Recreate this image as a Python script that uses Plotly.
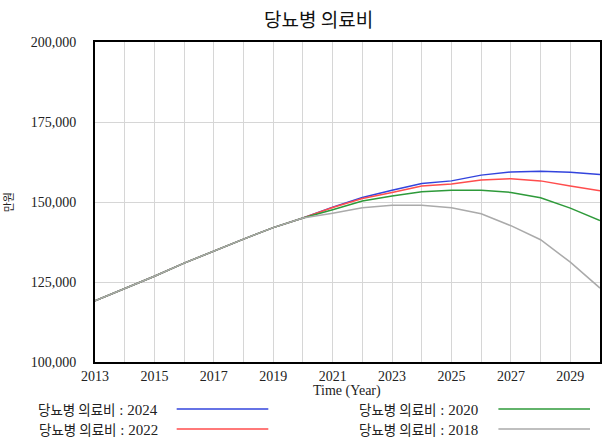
import plotly.graph_objects as go

years = list(range(2013, 2031))
common = [119.1, 122.9, 126.8, 130.9, 134.7, 138.4, 142.0, 145.0]
s2024 = common + [148.4, 151.4, 153.7, 155.8, 156.6, 158.4, 159.4, 159.6, 159.3, 158.6]
s2022 = common + [148.3, 151.1, 153.0, 155.0, 155.6, 156.9, 157.3, 156.6, 155.0, 153.5]
s2020 = common + [147.6, 150.3, 151.9, 153.2, 153.7, 153.7, 153.0, 151.3, 148.1, 144.2]
s2018 = common + [146.5, 148.2, 149.0, 149.0, 148.2, 146.3, 142.6, 138.2, 131.2, 123.1]

series_label = "당뇨병 의료비"
series_years = ["2024", "2022", "2020", "2018"]
series_vals = [s2024, s2022, s2020, s2018]
colors = ["#3344dd", "#ff4d4d", "#2e9a3a", "#aaaaaa"]

title = "당뇨병 의료비"
x_title = "Time (Year)"
y_title = "만원"
x_ticks = list(range(2013, 2030, 2))
y_ticks = [100000, 125000, 150000, 175000, 200000]

serif = "Liberation Serif, Times New Roman, serif"
kfont = "Noto Sans CJK KR, sans-serif"

fig = go.Figure()
for yr, vals, c in zip(series_years, series_vals, colors):
    fig.add_trace(go.Scatter(x=years, y=[v * 1000 for v in vals], mode="lines",
                             name=f"{series_label} : {yr}", line=dict(color=c, width=1.5),
                             showlegend=False))

W, H = 613, 441
ml, mr, mt, mb = 95, 11, 42, 79
PW, PH = W - ml - mr, H - mt - mb

fig.update_layout(
    width=W, height=H,
    margin=dict(l=ml, r=mr, t=mt, b=mb),
    plot_bgcolor="white", paper_bgcolor="white",
    xaxis=dict(range=[2013, 2030], tickvals=x_ticks, ticktext=[str(t) for t in x_ticks],
               showgrid=True, gridcolor="#d6d6d6", gridwidth=1,
               minor=dict(dtick=1, showgrid=True, gridcolor="#d6d6d6", gridwidth=1),
               showline=True, linecolor="black", linewidth=2, mirror=True,
               zeroline=False, tickfont=dict(family=serif, size=14, color="#222")),
    yaxis=dict(range=[100000, 200000], tickvals=y_ticks,
               ticktext=[f"{t:,}" for t in y_ticks],
               showgrid=True, gridcolor="#d6d6d6", gridwidth=1,
               showline=True, linecolor="black", linewidth=2, mirror=True,
               zeroline=False, tickfont=dict(family=serif, size=14, color="#222"),
               ticklabelstandoff=14),
)

def px(x):
    return (x - ml) / PW

def py(y):
    return (H - mb - y) / PH

annos = [
    dict(text=title, x=px(319), y=py(18), font=dict(family=kfont, size=19, color="#111")),
    dict(text=x_title, x=px(348), y=py(391), font=dict(family=serif, size=14, color="#222")),
    dict(text=y_title, x=px(8), y=py(202), textangle=-90, font=dict(family=kfont, size=11, color="#222")),
]
legend_pos = [(160, 409, 177, 269), (160, 429, 177, 269), (482, 409, 500, 592), (482, 429, 500, 592)]
for yr, c, (tx, ty, lx0, lx1) in zip(series_years, colors, legend_pos):
    txt = (f"{series_label}<span style='font-family:Liberation Serif;font-size:15px'> : {yr}</span>")
    annos.append(dict(text=txt, x=px(tx), y=py(ty), xanchor="right",
                      font=dict(family=kfont, size=13.5, color="#222")))
    fig.add_shape(type="line", xref="paper", yref="paper", x0=px(lx0), x1=px(lx1),
                  y0=py(ty), y1=py(ty), line=dict(color=c, width=1.5))
for a in annos:
    a.setdefault("xanchor", "center")
    a.update(xref="paper", yref="paper", showarrow=False, yanchor="middle")
    fig.add_annotation(**a)

fig.write_html("out.html")
